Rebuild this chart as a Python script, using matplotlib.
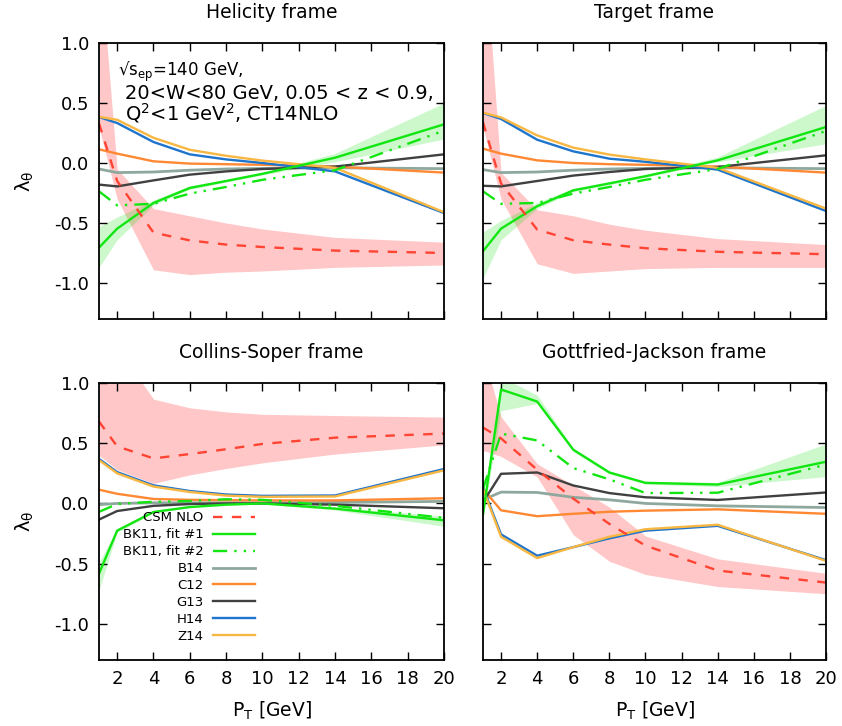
import matplotlib
matplotlib.use("Agg")
import matplotlib.pyplot as plt
from matplotlib.lines import Line2D

plt.rcParams['font.family'] = ['DejaVu Sans']

pt = [1, 2, 4, 6, 8, 10, 14, 20]

# Helicity frame
hel_csm = [0.33, -0.15, -0.58, -0.645, -0.68, -0.70, -0.73, -0.75]
hel_csm_lo = [0.30, -0.30, -0.89, -0.93, -0.91, -0.90, -0.87, -0.85]
hel_csm_hi = [1.8, -0.05, -0.38, -0.44, -0.50, -0.55, -0.62, -0.66]
hel_bk1 = [-0.705, -0.547, -0.333, -0.208, -0.15, -0.09, 0.044, 0.322]
hel_bk1_lo = [-0.87, -0.64, -0.35, -0.22, -0.16, -0.10, 0.01, 0.20]
hel_bk1_hi = [-0.53, -0.45, -0.31, -0.19, -0.14, -0.08, 0.08, 0.50]
hel_bk2 = [-0.236, -0.353, -0.34, -0.255, -0.20, -0.14, -0.06, 0.27]
hel_b14 = [-0.05, -0.08, -0.075, -0.06, -0.05, -0.045, -0.04, -0.047]
hel_c12 = [0.114, 0.078, 0.014, -0.005, -0.01, -0.015, -0.03, -0.08]
hel_g13 = [-0.18, -0.195, -0.145, -0.097, -0.07, -0.05, -0.03, 0.072]
hel_h14 = [0.383, 0.333, 0.175, 0.072, 0.03, 0.0, -0.07, -0.417]
hel_z14 = [0.385, 0.36, 0.21, 0.11, 0.06, 0.02, -0.04, -0.41]

# Target frame
tgt_csm = [0.34, -0.17, -0.555, -0.644, -0.68, -0.71, -0.74, -0.76]
tgt_csm_lo = [0.30, -0.30, -0.84, -0.92, -0.90, -0.88, -0.87, -0.87]
tgt_csm_hi = [2.0, -0.08, -0.39, -0.44, -0.51, -0.56, -0.63, -0.68]
tgt_bk1 = [-0.735, -0.547, -0.36, -0.228, -0.17, -0.11, 0.022, 0.30]
tgt_bk1_lo = [-0.96, -0.64, -0.38, -0.24, -0.18, -0.12, 0.01, 0.16]
tgt_bk1_hi = [-0.575, -0.48, -0.33, -0.21, -0.16, -0.10, 0.05, 0.48]
tgt_bk2 = [-0.236, -0.34, -0.333, -0.255, -0.20, -0.14, -0.05, 0.267]
tgt_b14 = [-0.055, -0.08, -0.075, -0.06, -0.05, -0.045, -0.04, -0.047]
tgt_c12 = [0.12, 0.078, 0.022, 0.0, -0.01, -0.015, -0.03, -0.08]
tgt_g13 = [-0.19, -0.195, -0.15, -0.105, -0.075, -0.05, -0.033, 0.064]
tgt_h14 = [0.417, 0.367, 0.194, 0.097, 0.036, 0.01, -0.055, -0.40]
tgt_z14 = [0.42, 0.38, 0.23, 0.128, 0.07, 0.03, -0.04, -0.38]

# Collins-Soper frame
cs_csm = [0.68, 0.474, 0.374, 0.41, 0.45, 0.494, 0.546, 0.58]
cs_csm_lo = [0.40, 0.28, 0.166, 0.237, 0.29, 0.337, 0.41, 0.486]
cs_csm_hi = [1.6, 1.3, 0.866, 0.794, 0.76, 0.74, 0.73, 0.717]
cs_bk1 = [-0.583, -0.226, -0.071, -0.03, -0.01, 0.0, -0.043, -0.14]
cs_bk1_lo = [-0.72, -0.24, -0.08, -0.035, -0.015, -0.005, -0.055, -0.19]
cs_bk1_hi = [-0.49, -0.21, -0.062, -0.025, -0.005, 0.005, -0.03, -0.105]
cs_bk2 = [-0.07, -0.005, 0.014, 0.02, 0.035, 0.03, -0.02, -0.12]
cs_b14 = [-0.01, 0.0, 0.005, 0.005, 0.005, 0.005, 0.008, 0.017]
cs_c12 = [0.114, 0.08, 0.037, 0.03, 0.027, 0.025, 0.025, 0.043]
cs_g13 = [-0.134, -0.063, -0.02, -0.005, 0.0, 0.0, -0.01, -0.04]
cs_h14 = [0.37, 0.26, 0.15, 0.103, 0.074, 0.063, 0.066, 0.286]
cs_z14 = [0.36, 0.25, 0.14, 0.095, 0.065, 0.055, 0.058, 0.275]

# Gottfried-Jackson frame
gj_csm = [0.63, 0.54, 0.28, 0.04, -0.17, -0.35, -0.557, -0.657]
gj_csm_lo = [0.44, 0.39, 0.22, -0.26, -0.48, -0.59, -0.69, -0.75]
gj_csm_hi = [1.25, 0.72, 0.33, 0.15, -0.03, -0.27, -0.46, -0.58]
gj_bk1 = [-0.09, 0.946, 0.846, 0.446, 0.257, 0.171, 0.157, 0.346]
gj_bk1_lo = [-0.12, 0.77, 0.83, 0.43, 0.245, 0.16, 0.14, 0.223]
gj_bk1_hi = [-0.06, 1.05, 0.90, 0.46, 0.27, 0.18, 0.175, 0.494]
gj_bk2 = [0.12, 0.58, 0.523, 0.294, 0.2, 0.086, 0.089, 0.323]
gj_b14 = [0.03, 0.094, 0.091, 0.051, 0.03, 0.0, -0.02, -0.034]
gj_c12 = [0.12, -0.057, -0.106, -0.086, -0.069, -0.06, -0.049, -0.086]
gj_g13 = [0.01, 0.246, 0.257, 0.149, 0.086, 0.051, 0.029, 0.091]
gj_h14 = [0.13, -0.257, -0.434, -0.363, -0.29, -0.226, -0.186, -0.471]
gj_z14 = [0.12, -0.277, -0.454, -0.363, -0.277, -0.214, -0.177, -0.477]

titles = ["Helicity frame", "Target frame", "Collins-Soper frame", "Gottfried-Jackson frame"]
labels = ["CSM NLO", "BK11, fit #1", "BK11, fit #2", "B14", "C12", "G13", "H14", "Z14"]
xticks = [2, 4, 6, 8, 10, 12, 14, 16, 18, 20]
yticks = [-1.0, -0.5, 0.0, 0.5, 1.0]
yticklabels = ["-1.0", "-0.5", "0.0", "0.5", "1.0"]

c_red = '#ff4433'
c_green = '#11e611'
c_b14 = '#8fa89e'
c_c12 = '#ff8833'
c_g13 = '#404040'
c_h14 = '#1f74cc'
c_z14 = '#f7b742'

panels = [
    (hel_csm, hel_csm_lo, hel_csm_hi, hel_bk1, hel_bk1_lo, hel_bk1_hi, hel_bk2,
     hel_b14, hel_c12, hel_g13, hel_h14, hel_z14),
    (tgt_csm, tgt_csm_lo, tgt_csm_hi, tgt_bk1, tgt_bk1_lo, tgt_bk1_hi, tgt_bk2,
     tgt_b14, tgt_c12, tgt_g13, tgt_h14, tgt_z14),
    (cs_csm, cs_csm_lo, cs_csm_hi, cs_bk1, cs_bk1_lo, cs_bk1_hi, cs_bk2,
     cs_b14, cs_c12, cs_g13, cs_h14, cs_z14),
    (gj_csm, gj_csm_lo, gj_csm_hi, gj_bk1, gj_bk1_lo, gj_bk1_hi, gj_bk2,
     gj_b14, gj_c12, gj_g13, gj_h14, gj_z14),
]

W, H = 842, 726
fig = plt.figure(figsize=(W / 100, H / 100), dpi=100)
boxes = [(99, 43, 444, 319), (483, 43, 826, 319), (99, 383, 444, 660), (483, 383, 826, 660)]

lw = 1.7
for i, (box, data) in enumerate(zip(boxes, panels)):
    x0, y0, x1, y1 = box
    ax = fig.add_axes([x0 / W, 1 - y1 / H, (x1 - x0) / W, (y1 - y0) / H])
    csm, csm_lo, csm_hi, bk1, bk1_lo, bk1_hi, bk2, b14, c12, g13, h14, z14 = data

    ax.fill_between(pt, csm_lo, csm_hi, color='#ff0000', alpha=0.22, lw=0)
    ax.fill_between(pt, bk1_lo, bk1_hi, color='#00dd00', alpha=0.2, lw=0)

    ax.plot(pt, b14, color=c_b14, lw=lw + 0.3)
    ax.plot(pt, c12, color=c_c12, lw=lw)
    ax.plot(pt, g13, color=c_g13, lw=lw)
    ax.plot(pt, h14, color=c_h14, lw=lw)
    ax.plot(pt, z14, color=c_z14, lw=lw)
    ax.plot(pt, bk1, color=c_green, lw=lw)
    ax.plot(pt, bk2, color=c_green, lw=lw, dashes=(6, 3, 1, 3, 1, 3))
    ax.plot(pt, csm, color=c_red, lw=lw, dashes=(4, 4))

    ax.set_xlim(1, 20)
    ax.set_ylim(-1.3, 1.0)
    ax.set_xticks(xticks)
    ax.set_yticks(yticks)
    ax.tick_params(direction='in', length=6, width=1, top=True, right=True,
                   labelsize=13, pad=7)
    for s in ax.spines.values():
        s.set_linewidth(1.3)
    ax.set_title(titles[i], fontsize=13.5, pad=18)

    if i % 2 == 0:
        ax.set_yticklabels(yticklabels)
        ax.set_ylabel("λ$_\\mathregular{θ}$", fontsize=14)
        ax.yaxis.set_label_coords(-0.183, 0.5)
    else:
        ax.set_yticklabels([])
    if i >= 2:
        ax.set_xlabel("P$_\\mathregular{T}$ [GeV]", fontsize=13.5)
        ax.xaxis.set_label_coords(0.5, -0.145)
    else:
        ax.set_xticklabels([])

    if i == 0:
        ax.text(0.055, 0.895, "√s$_\\mathregular{ep}$=140 GeV,", transform=ax.transAxes,
                fontsize=12, va='center', ha='left')
        ax.text(0.074, 0.818, "20<W<80 GeV, 0.05 < z < 0.9,", transform=ax.transAxes,
                fontsize=14, va='center', ha='left')
        ax.text(0.074, 0.747, "Q$^\\mathregular{2}$<1 GeV$^\\mathregular{2}$, CT14NLO",
                transform=ax.transAxes, fontsize=14, va='center', ha='left')

    if i == 2:
        handles = [
            Line2D([], [], color=c_red, lw=lw, dashes=(4, 4)),
            Line2D([], [], color=c_green, lw=lw),
            Line2D([], [], color=c_green, lw=lw, dashes=(6, 3, 1, 3, 1, 3)),
            Line2D([], [], color=c_b14, lw=lw + 0.3),
            Line2D([], [], color=c_c12, lw=lw),
            Line2D([], [], color=c_g13, lw=lw),
            Line2D([], [], color=c_h14, lw=lw),
            Line2D([], [], color=c_z14, lw=lw),
        ]
        ax.legend(handles, labels, markerfirst=False, frameon=False, fontsize=9.5,
                  loc='upper right', bbox_to_anchor=(0.452, 0.537),
                  borderaxespad=0, borderpad=0, handlelength=3.2,
                  handletextpad=0.7, labelspacing=0.3)

fig.savefig("out.png", dpi=100)
